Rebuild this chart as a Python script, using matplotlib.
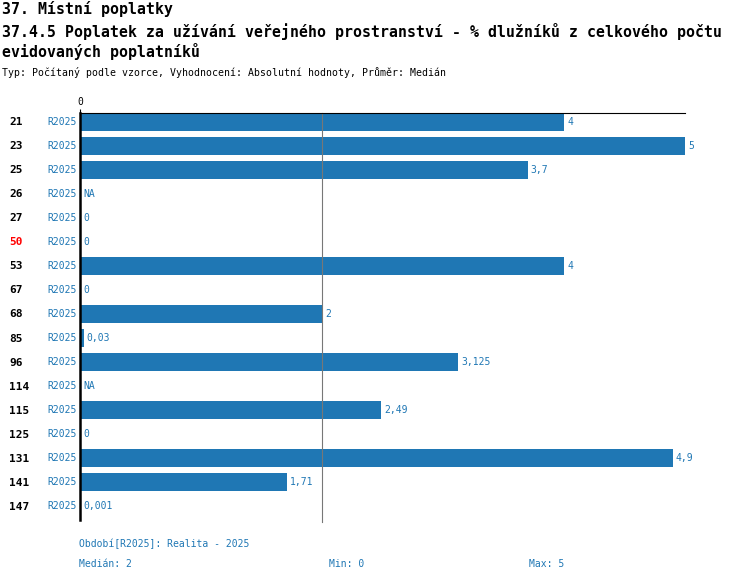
import matplotlib
matplotlib.use("Agg")
import matplotlib.pyplot as plt

ids = ["21", "23", "25", "26", "27", "50", "53", "67", "68", "85", "96", "114", "115", "125", "131", "141", "147"]
values = [4, 5, 3.7, None, 0, 0, 4, 0, 2, 0.03, 3.125, None, 2.49, 0, 4.9, 1.71, 0.001]
labels = ["4", "5", "3,7", "NA", "0", "0", "4", "0", "2", "0,03", "3,125", "NA", "2,49", "0", "4,9", "1,71", "0,001"]
highlight = ["50"]
median = 2

W, H = 750, 582
blue = "#1f77b4"
plt.rcParams["font.family"] = ["DejaVu Sans Mono"]

fig = plt.figure(figsize=(W / 100, H / 100), dpi=100)
px = lambda x, y: (x / W, 1 - y / H)

fig.text(*px(2, 9), "37. Místní poplatky", fontsize=10.7, fontweight="bold", va="center")
fig.text(*px(2, 31), "37.4.5 Poplatek za užívání veřejného prostranství - % dlužníků z celkového počtu",
         fontsize=10.7, fontweight="bold", va="center")
fig.text(*px(2, 52), "evidovaných poplatníků", fontsize=10.7, fontweight="bold", va="center")
fig.text(*px(2, 73), "Typ: Počítaný podle vzorce, Vyhodnocení: Absolutní hodnoty, Průměr: Medián",
         fontsize=7.1, va="center")

ax = fig.add_axes([80 / W, 1 - 520 / H, 605 / W, 407 / H])
ax.set_xlim(0, 5)
ax.set_ylim(16.58, -0.375)
for s in ["right", "bottom"]:
    ax.spines[s].set_visible(False)
ax.spines["left"].set_linewidth(1.8)
ax.xaxis.tick_top()
ax.set_xticks([0])
ax.set_xticklabels(["0"], fontsize=7)
ax.tick_params(axis="x", length=3, pad=1)
ax.set_yticks([])

for i, (v, lab, rid) in enumerate(zip(values, labels, ids)):
    w = v if v is not None else 0
    ax.barh(i, w, height=0.75, color=blue)
    ax.text(w + 0.025, i, lab, color=blue, fontsize=7, va="center")
    ax.annotate("R2025", (0, i), xytext=(-2, 0), textcoords="offset points",
                ha="right", va="center", fontsize=7, color=blue)
    fig.text(9 / W, 1 - (122 + 24.06 * i) / H, rid, fontsize=8, fontweight="bold",
             va="center", color="red" if rid in highlight else "black")

ax.axvline(median, color="#777777", lw=0.8, ymax=1.0, ymin=-0.005, clip_on=False)

fig.text(*px(79, 544), "Období[R2025]: Realita - 2025", fontsize=7, color=blue, va="center")
fig.text(*px(79, 564), "Medián: 2", fontsize=7, color=blue, va="center")
fig.text(*px(329, 564), "Min: 0", fontsize=7, color=blue, va="center")
fig.text(*px(529, 564), "Max: 5", fontsize=7, color=blue, va="center")

fig.savefig("out.png", dpi=100)
